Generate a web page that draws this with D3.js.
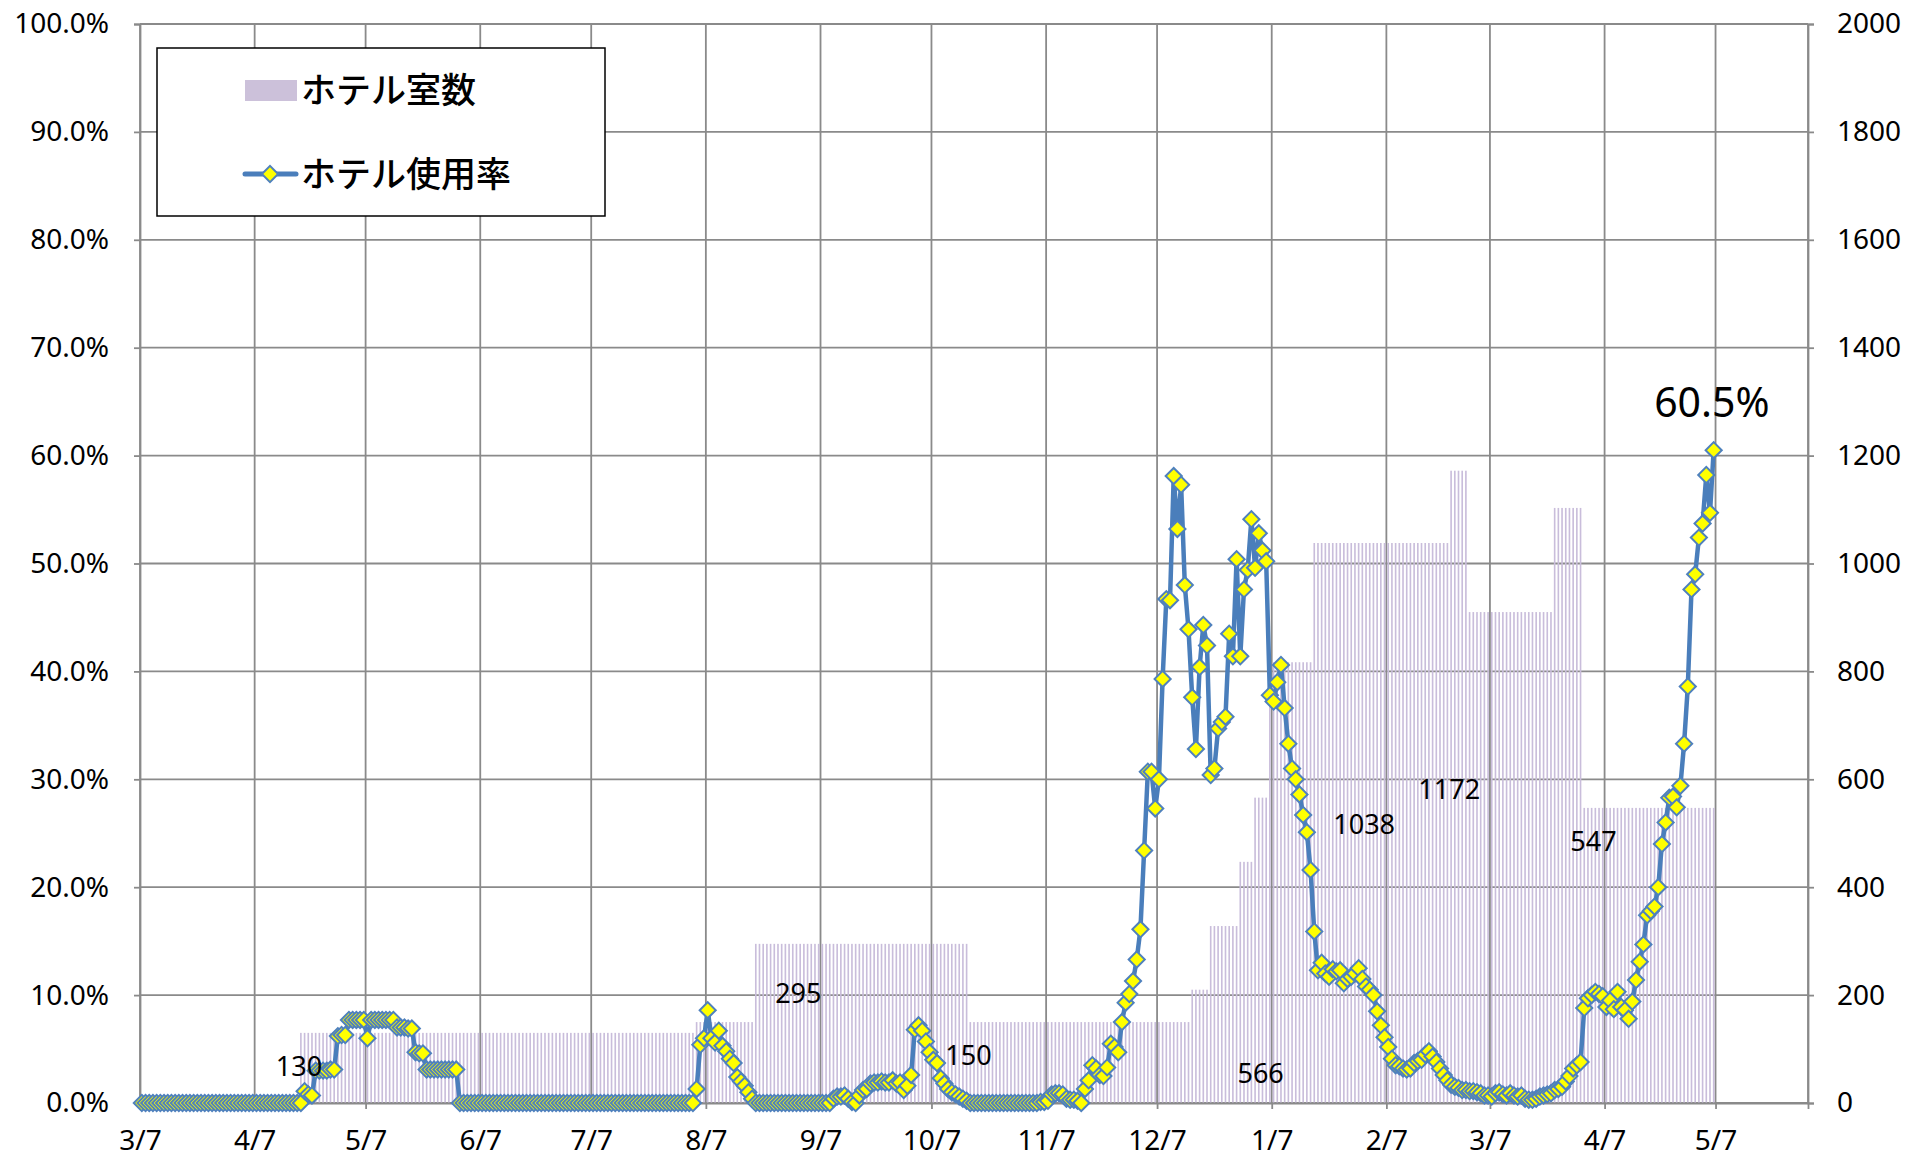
<!DOCTYPE html>
<html>
<head>
<meta charset="utf-8">
<script src="https://cdn.jsdelivr.net/npm/d3@7.9.0/dist/d3.min.js"></script>
<style>
  body { margin: 0; background: #fff; }
  text { font-family: "Noto Sans", "Noto Sans CJK JP", sans-serif; fill: #000; }
  .jp { font-family: "Noto Sans CJK JP", sans-serif; }
</style>
</head>
<body>
<svg id="chart" width="1905" height="1159"></svg>
<script>
// daily usage rate (%), one row per month, starting 2020-03-07
const startDate = '2020-03-07';
const usageRate = [
  // 3/7 - 4/6
  0,0,0,0,0,0,0,0,0,0,0,0,0,0,0,0,0,0,0,0,0,0,0,0,0,0,0,0,0,0,0,
  // 4/7 - 5/6
  0,0,0,0,0,0,0,0,0,0,0,0,0,1.1,0.8,0.7,3.0,3.0,3.0,3.0,3.1,3.1,6.2,6.3,6.3,7.7,7.7,7.7,7.7,7.7,
  // 5/7 - 6/6
  6.0,7.7,7.7,7.7,7.7,7.7,7.7,7.7,7.0,7.0,7.0,6.9,6.9,4.7,4.6,4.6,3.1,3.1,3.1,3.1,3.1,3.1,3.1,3.1,3.1,0,0,0,0,0,0,
  // 6/7 - 7/6
  0,0,0,0,0,0,0,0,0,0,0,0,0,0,0,0,0,0,0,0,0,0,0,0,0,0,0,0,0,0,
  // 7/7 - 8/6
  0,0,0,0,0,0,0,0,0,0,0,0,0,0,0,0,0,0,0,0,0,0,0,0,0,0,0,0,1.3,5.4,6.0,
  // 8/7 - 9/6
  8.6,6.0,5.6,6.7,5.3,4.8,4.1,3.7,2.4,2.0,1.6,1.0,0.4,0,0,0,0,0,0,0,0,0,0,0,0,0,0,0,0,0,0,
  // 9/7 - 10/6
  0,0,0,0.4,0.6,0.6,0.7,0.4,0.1,0,0.7,1.2,1.3,1.8,1.9,1.9,2.0,1.9,1.9,2.1,1.8,1.9,1.2,1.6,2.6,6.8,7.2,6.7,5.7,4.7,
  // 10/7 - 11/6
  4.0,3.7,2.3,1.8,1.3,1.0,0.8,0.6,0.4,0.2,0,0,0,0,0,0,0,0,0,0,0,0,0,0,0,0,0,0,0,0.1,0.1,
  // 11/7 - 12/6
  0.2,0.8,0.9,0.9,0.8,0.4,0.3,0.3,0.2,0,1.3,2.1,3.5,3.2,2.6,2.5,3.3,5.5,5.2,4.7,7.5,9.3,10.1,11.3,13.3,16.1,23.4,30.7,30.7,27.3,
  // 12/7 - 1/6
  30.0,39.3,46.7,46.6,58.1,53.2,57.3,48.0,43.9,37.6,32.8,40.4,44.3,42.4,30.4,31.0,34.7,35.3,35.8,43.5,41.4,50.4,41.4,47.6,49.4,54.1,49.6,52.8,51.2,50.2,37.8,
  // 1/7 - 2/6
  37.2,39.0,40.6,36.6,33.3,31.0,30.0,28.6,26.7,25.1,21.6,15.9,12.3,13.0,12.0,11.7,12.4,12.2,12.3,11.1,11.5,11.7,12.0,12.5,11.5,10.8,10.5,10.0,8.5,7.2,6.1,
  // 2/7 - 3/6
  5.2,4.1,3.5,3.4,3.2,3.1,3.2,3.7,3.9,4.0,4.5,4.8,4.3,3.8,3.2,2.6,2.1,1.7,1.5,1.4,1.2,1.2,1.1,1.1,1.0,0.9,0.7,0.7,
  // 3/7 - 4/6
  0.6,0.9,1.0,0.8,0.7,0.9,0.7,0.6,0.7,0.4,0.3,0.3,0.4,0.6,0.7,0.8,0.9,1.2,1.3,1.5,2.0,2.5,3.2,3.5,3.8,8.8,9.7,10.0,10.3,10.1,9.9,
  // 4/7 - 5/6
  8.9,9.5,8.7,10.3,8.9,8.6,7.8,9.4,11.4,13.1,14.7,17.4,17.8,18.2,20.0,24.0,26.0,28.3,28.4,27.4,29.4,33.3,38.6,47.6,49.0,52.4,53.7,58.2,54.7,60.5
];

// hotel rooms: date each level starts, and the level
const roomStart = ['2020-03-07','2020-04-19','2020-08-04','2020-08-20','2020-10-17','2020-12-16','2020-12-21',
  '2020-12-29','2021-01-02','2021-01-06','2021-01-18','2021-02-24','2021-03-01','2021-03-24','2021-04-01'];
const roomCount = [0,130,150,295,150,210,328,447,566,817,1038,1172,910,1103,547];

// data labels on the room bars
const labelDates = ['2020-04-19','2020-09-01','2020-10-17','2021-01-04','2021-02-01','2021-02-24','2021-04-04'];
const labelRooms = [70,205,90,56,518,583,486];
const labelTexts = ['130','295','150','566','1038','1172','547'];

const tickDates = ['2020-03-07','2020-04-07','2020-05-07','2020-06-07','2020-07-07','2020-08-07','2020-09-07',
  '2020-10-07','2020-11-07','2020-12-07','2021-01-07','2021-02-07','2021-03-07','2021-04-07','2021-05-07'];

const legendLabels = ['ホテル室数', 'ホテル使用率'];

const parse = d3.utcParse('%Y-%m-%d');
const t0 = parse(startDate);

const days = usageRate.map((v, i) => ({ date: d3.utcDay.offset(t0, i), rate: v / 100 }));
const starts = roomStart.map(parse);
days.forEach(d => {
  const k = d3.bisectRight(starts, d.date) - 1;
  d.rooms = roomCount[k];
});

const svg = d3.select('#chart');
const plotL = 140, plotR = 1808, plotT = 24, plotB = 1103;

const x = d3.scaleUtc().domain([t0, parse('2021-06-01')]).range([plotL, plotR]);
const yL = d3.scaleLinear().domain([0, 1]).range([plotB, plotT]);
const yR = d3.scaleLinear().domain([0, 2000]).range([plotB, plotT]);
const dayW = x(d3.utcDay.offset(t0, 1)) - x(t0);
const cx = d => x(d) + dayW / 2;

const gridColor = '#8a8a8a';

// grid
const grid = svg.append('g');
grid.selectAll('.h').data(yL.ticks(10)).join('line')
  .attr('x1', plotL).attr('x2', plotR)
  .attr('y1', d => yL(d)).attr('y2', d => yL(d))
  .attr('stroke', gridColor).attr('stroke-width', 1.8);
grid.selectAll('.v').data(tickDates.map(parse)).join('line')
  .attr('x1', d => x(d)).attr('x2', d => x(d))
  .attr('y1', plotT).attr('y2', plotB)
  .attr('stroke', gridColor).attr('stroke-width', 1.8);
grid.append('line').attr('x1', plotR).attr('x2', plotR).attr('y1', plotT).attr('y2', plotB)
  .attr('stroke', gridColor).attr('stroke-width', 1.8);

// room bars
svg.append('g').selectAll('rect').data(days.filter(d => d.rooms > 0)).join('rect')
  .attr('x', d => cx(d.date) - dayW * 0.22)
  .attr('width', dayW * 0.44)
  .attr('y', d => yR(d.rooms))
  .attr('height', d => plotB - yR(d.rooms))
  .attr('fill', '#c9bddb');

// axes
const axL = svg.append('g').attr('transform', `translate(${plotL},0)`)
  .call(d3.axisLeft(yL).ticks(10).tickFormat(d3.format('.1%')).tickSize(6).tickPadding(25));
const axR = svg.append('g').attr('transform', `translate(${plotR},0)`)
  .call(d3.axisRight(yR).ticks(10).tickFormat(d3.format('d')).tickSize(6).tickPadding(23));
const axB = svg.append('g').attr('transform', `translate(0,${plotB})`)
  .call(d3.axisBottom(x).tickValues(tickDates.map(parse))
    .tickFormat(d => `${d.getUTCMonth() + 1}/${d.getUTCDate()}`).tickSize(6).tickPadding(21));
[axL, axR, axB].forEach(a => {
  a.select('.domain').attr('stroke', gridColor).attr('stroke-width', 1.8);
  a.selectAll('.tick line').attr('stroke', gridColor).attr('stroke-width', 1.8);
  a.selectAll('text').attr('font-size', 28).attr('font-family', '"Noto Sans", sans-serif').attr('fill', '#000');
});

// usage line
const line = d3.line().x(d => cx(d.date)).y(d => yL(d.rate));
svg.append('path').datum(days)
  .attr('d', line)
  .attr('fill', 'none')
  .attr('stroke', '#4a7ebb')
  .attr('stroke-width', 4.5)
  .attr('stroke-linejoin', 'round');

const diamond = d3.symbol().type(d3.symbolSquare).size(130);
svg.append('g').selectAll('path').data(days).join('path')
  .attr('d', diamond)
  .attr('transform', d => `translate(${cx(d.date)},${yL(d.rate)}) rotate(45)`)
  .attr('fill', '#ffff00')
  .attr('stroke', '#4f81bd')
  .attr('stroke-width', 2);

// bar labels
svg.append('g').selectAll('text').data(labelTexts).join('text')
  .attr('x', (d, i) => x(parse(labelDates[i])))
  .attr('y', (d, i) => yR(labelRooms[i]))
  .attr('text-anchor', 'middle')
  .attr('dominant-baseline', 'central')
  .attr('font-size', 27)
  .text(d => d);

// last value callout
const last = days[days.length - 1];
svg.append('text')
  .attr('x', x(last.date))
  .attr('y', yL(last.rate + 0.046))
  .attr('text-anchor', 'middle')
  .attr('dominant-baseline', 'central')
  .attr('font-size', 41)
  .text(d3.format('.1%')(last.rate));

// legend
const lg = svg.append('g');
lg.append('rect').attr('x', 157).attr('y', 48).attr('width', 448).attr('height', 168)
  .attr('fill', '#fff').attr('stroke', '#000').attr('stroke-width', 1.5);
lg.append('rect').attr('x', 245).attr('y', 80).attr('width', 52).attr('height', 21).attr('fill', '#ccc1da');
lg.append('line').attr('x1', 245).attr('x2', 296).attr('y1', 174).attr('y2', 174)
  .attr('stroke', '#4a7ebb').attr('stroke-width', 5).attr('stroke-linecap', 'round');
lg.append('path').attr('d', diamond).attr('transform', 'translate(270,174) rotate(45)')
  .attr('fill', '#ffff00').attr('stroke', '#4f81bd').attr('stroke-width', 2);
lg.selectAll('text.lab').data(legendLabels).join('text')
  .attr('class', 'jp')
  .attr('x', 301)
  .attr('y', (d, i) => i === 0 ? 87 : 171)
  .attr('dominant-baseline', 'central')
  .attr('font-size', 35)
  .attr('font-weight', 500)
  .text(d => d);
</script>
</body>
</html>
